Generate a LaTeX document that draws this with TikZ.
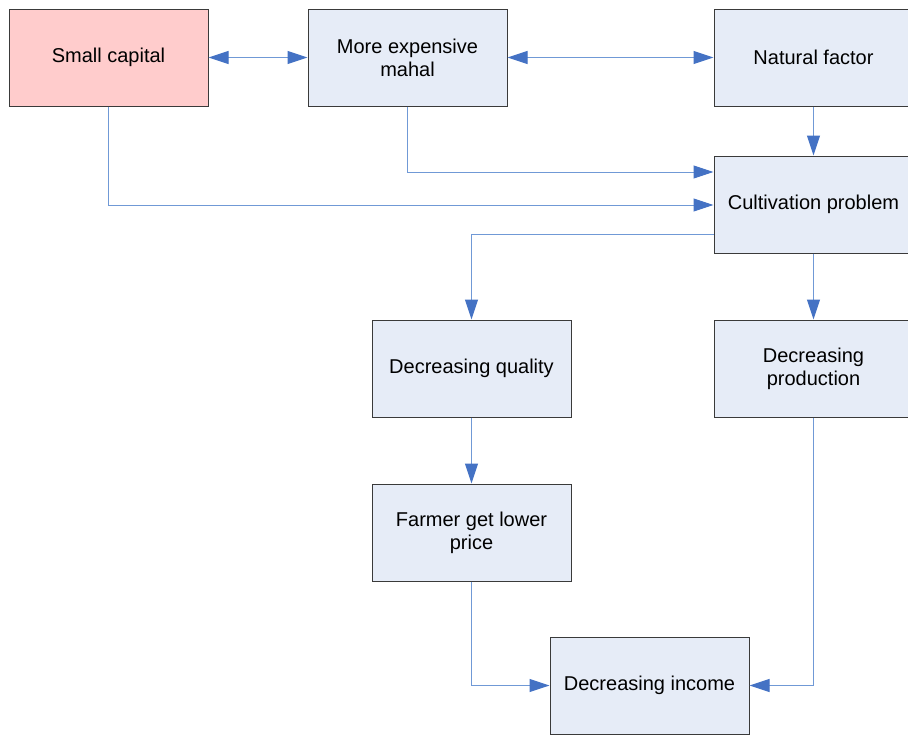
\documentclass[tikz,border=0pt]{standalone}
\usepackage{fontspec}
\setmainfont{Liberation Sans}
\usetikzlibrary{arrows.meta}
\definecolor{boxfill}{HTML}{E6ECF7}
\definecolor{pinkfill}{HTML}{FFCCCC}
\definecolor{boxline}{HTML}{3A3A3A}
\definecolor{conline}{HTML}{7099D6}
\definecolor{tipcol}{HTML}{4472C4}
\tikzset{
  box/.style={draw=boxline, line width=1pt, fill=boxfill, minimum width=199pt, minimum height=97pt,
    inner sep=0pt, align=center, font=\fontsize{20}{23}\selectfont, text=black},
  conn/.style={draw=conline, line width=1pt, -{Triangle[length=20pt,width=13pt,color=tipcol]}},
  biconn/.style={draw=conline, line width=1pt, {Triangle[length=20pt,width=13pt,color=tipcol]}-{Triangle[length=20pt,width=13pt,color=tipcol]}}
}
\begin{document}
\begin{tikzpicture}[x=1pt,y=-1pt]
\useasboundingbox (0,0) rectangle (908,740);
\clip (0,0) rectangle (908,740);
\node[box, fill=pinkfill] (sc) at (108.5,57.5) {Small capital};
\node[box] (mm) at (407.5,57.5) {More expensive\\mahal};
\node[box] (nf) at (813.5,57.5) {Natural factor};
\node[box] (cp) at (813.5,204.5) {Cultivation problem};
\node[box] (dq) at (471.5,368.5) {Decreasing quality};
\node[box] (dp) at (813.5,368.5) {Decreasing\\production};
\node[box] (fp) at (471.5,532.5) {Farmer get lower\\price};
\node[box] (di) at (649.5,685.5) {Decreasing income};
\coordinate (ccrow) at (0,234);
\draw[biconn] (sc) -- (mm);
\draw[biconn] (mm) -- (nf);
\draw[conn] (nf.south) -- (cp.north);
\draw[conn] (mm.south) |- (cp.west |- 0,172);
\draw[conn] (sc.south) |- (cp.west |- 0,205);
\draw[conn] (cp.west |- ccrow) -| (dq.north);
\draw[conn] (cp.south) -- (dp.north);
\draw[conn] (dq.south) -- (fp.north);
\draw[conn] (fp.south) |- (di.west);
\draw[conn] (dp.south) |- (di.east);
\end{tikzpicture}
\end{document}
